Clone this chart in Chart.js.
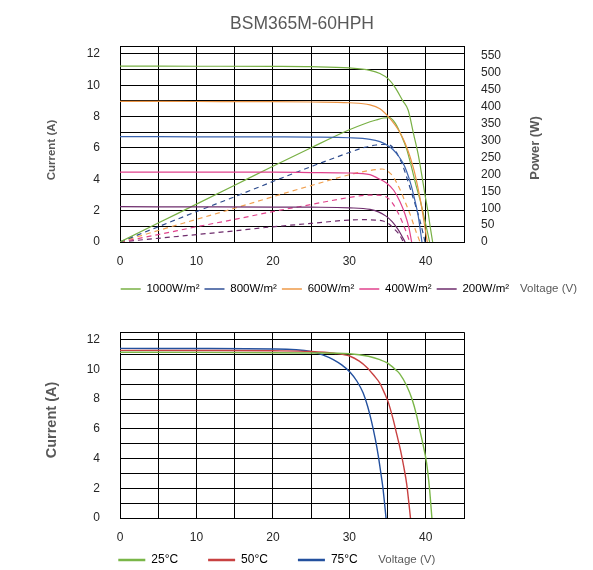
<!DOCTYPE html>
<html lang="en">
<head>
<meta charset="UTF-8">
<title>BSM365M-60HPH</title>
<script src="https://cdn.jsdelivr.net/npm/chart.js"></script>
<style>
  body { margin: 0; background: #fff; }
  .box { position: absolute; left: 0; width: 593px; }
  #top { top: 0; height: 305px; }
  #bottom { top: 305px; height: 265px; }
</style>
</head>
<body>
<div class="box" id="top"><canvas id="ivChart"></canvas></div>
<div class="box" id="bottom"><canvas id="tempChart"></canvas></div>
<script>
  // legend / series names
  const irradianceLabels = ['1000W/m²', '800W/m²', '600W/m²', '400W/m²', '200W/m²'];
  const tempLabels = ['25°C', '50°C', '75°C'];

  // I-V curves, [voltage, current]
  const iv1000 = [[0, 11.22], [10, 11.21], [20, 11.2], [25, 11.18], [30, 11.1], [32.7, 10.95], [34, 10.75], [35.1, 10.4], [36, 9.85], [37, 9.0], [37.7, 8.4], [38.4, 6.9], [39, 5.6], [39.5, 4.2], [39.9, 3.0], [40.3, 1.9], [40.6, 0.9], [40.9, 0]];
  const iv800 = [[0, 8.97], [10, 8.96], [20, 8.95], [25, 8.93], [30, 8.88], [32.7, 8.75], [34, 8.5], [35.1, 8.0], [36, 7.45], [36.6, 7.0], [37.3, 6.3], [37.9, 5.5], [38.5, 4.5], [39, 3.4], [39.4, 2.4], [39.7, 1.5], [40.2, 0]];
  const iv600 = [[0, 6.72], [10, 6.71], [20, 6.7], [25, 6.69], [30, 6.65], [32.7, 6.55], [34, 6.4], [34.9, 6.19], [35.7, 5.9], [36.4, 5.5], [37, 5.05], [37.5, 4.5], [38.1, 3.6], [38.6, 2.6], [39, 1.7], [39.5, 0]];
  const iv400 = [[0, 4.46], [10, 4.46], [20, 4.45], [25, 4.43], [30, 4.4], [32.7, 4.3], [33.8, 4.05], [34.9, 3.75], [35.8, 3.3], [36.6, 2.6], [37.3, 1.75], [37.8, 0.9], [38.15, 0]];
  const iv200 = [[0, 2.25], [10, 2.24], [20, 2.23], [25, 2.22], [30, 2.18], [32.7, 2.08], [33.8, 1.92], [34.8, 1.65], [35.6, 1.3], [36.3, 0.85], [36.8, 0.45], [37.3, 0]];

  // P-V curves, [voltage, power]
  const pv1000 = [[0, 0], [5, 56], [10, 112], [15, 168], [20, 224], [25, 279], [30, 332], [32, 350], [33.5, 361], [34.5, 367], [35.2, 368], [36, 352], [36.9, 310], [37.5, 275], [38.15, 220], [38.7, 170], [39.25, 125], [39.9, 62], [40.5, 0]];
  const pv800 = [[0, 0], [5, 45], [10, 90], [15, 134], [20, 179], [25, 223], [30, 265], [32, 280], [33.5, 287], [34.9, 289], [35.7, 280], [36.4, 255], [37, 225], [37.6, 185], [38.15, 145], [38.7, 105], [39.25, 62], [39.6, 30], [39.9, 0]];
  const pv600 = [[0, 0], [5, 34], [10, 67], [15, 100], [20, 134], [25, 167], [30, 199], [32, 209], [33.4, 214], [34.3, 216], [35.5, 200], [36.2, 175], [36.85, 144], [37.4, 113], [37.9, 85], [38.4, 52], [38.8, 26], [39.25, 0]];
  const pv400 = [[0, 0], [5, 22], [10, 45], [15, 67], [20, 90], [25, 111], [30, 132], [32, 138], [33.5, 139], [34.4, 137], [35.1, 129], [35.8, 110], [36.4, 85], [37, 55], [37.5, 26], [37.9, 0]];
  const pv200 = [[0, 0], [5, 11], [10, 22], [15, 33], [20, 45], [25, 55], [30, 65], [32, 66], [33.4, 65], [34.4, 62], [35.1, 55], [35.8, 40], [36.4, 26], [36.8, 12], [37.05, 0]];

  // temperature I-V curves, [voltage, current]
  const iv25c = [[0, 11.15], [10, 11.14], [20, 11.12], [25, 11.1], [30, 11.05], [32.5, 10.88], [34, 10.65], [34.9, 10.45], [36, 10.0], [36.6, 9.7], [37.5, 8.9], [38.2, 8.0], [38.8, 6.9], [39.25, 5.85], [39.7, 4.8], [40.1, 3.72], [40.5, 1.9], [40.8, 0]];
  const iv50c = [[0, 11.28], [10, 11.27], [20, 11.25], [25, 11.2], [28, 11.08], [30.1, 10.88], [31.3, 10.55], [32.3, 10.13], [33.2, 9.6], [34, 9.06], [34.6, 8.4], [35.1, 7.78], [35.7, 6.7], [36.2, 5.64], [36.7, 4.55], [37.1, 3.5], [37.5, 2.3], [38, 0]];
  const iv75c = [[0, 11.41], [10, 11.4], [20, 11.37], [25, 11.2], [26.5, 10.98], [27.9, 10.66], [29, 10.3], [30.1, 9.81], [31, 9.2], [31.8, 8.42], [32.4, 7.5], [32.9, 6.5], [33.4, 5.3], [33.8, 4.15], [34.1, 3.1], [34.4, 2.0], [34.8, 0]];

  // axes: grid steps and labelled ticks
  const voltageMax = 45;
  const voltageLabels = [0, 10, 20, 30, 40];
  const currentMax = 12.5;
  const currentGrid = [0, 1, 2, 3, 4, 5, 6, 7, 8, 9, 10, 11, 12, 12.5];
  const currentLabels = [0, 2, 4, 6, 8, 10, 12];
  const powerMax = 580;
  const powerLabels = [0, 50, 100, 150, 200, 250, 300, 350, 400, 450, 500, 550];

  const green = '#78b044';
  const legendColors = [green, '#2f4f96', '#ee9a48', '#e0428c', '#6e2c6c'];
  const tempColors = ['#7ab648', '#c84141', '#23509e'];

  Chart.defaults.font.family = '"Liberation Sans", Arial, sans-serif';
  Chart.defaults.color = '#262626';

  const toXY = arr => arr.map(p => ({ x: p[0], y: p[1] }));
  const setTicks = list => s => { s.ticks = list.map(v => ({ value: v })); };

  // moves the legend and draws the extra texts
  const extraText = {
    id: 'extraText',
    afterLayout(chart, args, opts) {
      const lg = chart.legend;
      const lo = chart.options.plugins.legend.labels;
      if (!lg || !opts.legendStart) return;
      lg.left = opts.legendStart[0] - lo.padding;
      lg.right = lg.left + 1000;
      lg.top = opts.legendStart[1] - lo.font.size / 2 - lo.padding;
      lg.bottom = lg.top + 80;
    },
    afterDraw(chart, args, opts) {
      const ctx = chart.ctx;
      const lg = chart.legend;
      ctx.save();
      ctx.textBaseline = 'middle';
      if (opts.axisName && lg && lg.legendHitBoxes && lg.legendHitBoxes.length) {
        const hb = lg.legendHitBoxes[lg.legendHitBoxes.length - 1];
        ctx.font = opts.axisName.font;
        ctx.fillStyle = '#595959';
        ctx.textAlign = 'left';
        ctx.fillText(opts.axisName.text, hb.left + hb.width + opts.axisName.gap, opts.legendStart[1]);
      }
      (opts.vertical || []).forEach(t => {
        ctx.save();
        ctx.translate(t.x, t.y);
        ctx.rotate(-Math.PI / 2);
        ctx.font = t.font;
        ctx.fillStyle = '#595959';
        ctx.textAlign = 'center';
        ctx.fillText(t.text, 0, 0);
        ctx.restore();
      });
      ctx.restore();
    }
  };

  const gridOpts = { color: '#000', lineWidth: 1, drawTicks: false };

  function ivSet(data, color) {
    return { data: toXY(data), borderColor: color, yAxisID: 'y', borderWidth: 1.2 };
  }
  function pvSet(data, color, dashed) {
    return { data: toXY(data), borderColor: color, yAxisID: 'y1', borderWidth: 1.2, borderDash: dashed ? [5, 4] : [] };
  }

  const xScale = height => ({
    type: 'linear', min: 0, max: voltageMax,
    ticks: { stepSize: 5, padding: 12, autoSkip: false, maxRotation: 0, font: { size: 12 },
      callback: v => voltageLabels.includes(v) ? v : '' },
    grid: gridOpts, border: { color: '#000' },
    afterFit: s => { s.height = height; }
  });
  const currentScale = {
    position: 'left', min: 0, max: currentMax,
    afterBuildTicks: setTicks(currentGrid),
    ticks: { padding: 20, autoSkip: false, font: { size: 12 },
      callback: v => currentLabels.includes(v) ? v : '' },
    grid: gridOpts, border: { color: '#000' },
    afterFit: s => { s.width = 109; }
  };

  const ivData = {
    datasets: [
      ivSet(iv1000, green),
      ivSet(iv800, '#eb9444'),
      ivSet(iv600, '#3a63ae'),
      ivSet(iv400, '#e0428c'),
      ivSet(iv200, '#6e2c6c'),
      pvSet(pv1000, green, false),
      pvSet(pv800, '#2c4a8c', true),
      pvSet(pv600, '#f0a050', true),
      pvSet(pv400, '#e0428c', true),
      pvSet(pv200, '#6e2c6c', true)
    ]
  };

  const ivConfig = {
    type: 'line',
    data: ivData,
    options: {
      responsive: true,
      maintainAspectRatio: false,
      animation: false,
      layout: { padding: { left: 11, right: 0, top: 0, bottom: 0 } },
      elements: { point: { radius: 0 }, line: { cubicInterpolationMode: 'monotone', fill: false } },
      plugins: {
        title: {
          display: true, text: 'BSM365M-60HPH', color: '#595959',
          font: { size: 17.5, weight: 'normal' }, padding: { top: 13.5, bottom: 11.5 }
        },
        legend: {
          position: 'bottom', align: 'start', maxHeight: 1,
          labels: {
            usePointStyle: true, pointStyleWidth: 20, padding: 5, color: '#595959', font: { size: 11.5 },
            generateLabels: () => irradianceLabels.map((t, i) => ({
              text: t, strokeStyle: legendColors[i], fillStyle: legendColors[i], lineWidth: 1.5,
              pointStyle: 'line', hidden: false, datasetIndex: i
            }))
          }
        },
        tooltip: { enabled: false },
        extraText: {
          legendStart: [120.7, 289],
          axisName: { text: 'Voltage (V)', font: '11.5px "Liberation Sans", Arial, sans-serif', gap: 11 },
          vertical: [
            { text: 'Current (A)', x: 51.5, y: 150, font: 'bold 11.5px "Liberation Sans", Arial, sans-serif' },
            { text: 'Power (W)', x: 535, y: 148, font: 'bold 13px "Liberation Sans", Arial, sans-serif' }
          ]
        }
      },
      scales: {
        x: xScale(62),
        y: currentScale,
        y1: {
          position: 'right', min: 0, max: powerMax,
          afterBuildTicks: setTicks(powerLabels),
          ticks: { padding: 17, autoSkip: false, font: { size: 12 } },
          grid: { display: false, drawTicks: false }, border: { color: '#000' },
          afterFit: s => { s.width = 129; }
        }
      }
    },
    plugins: [extraText]
  };

  const ivChart = new Chart(document.getElementById('ivChart'), ivConfig);

  // temperature chart
  const tempData = {
    datasets: [iv25c, iv50c, iv75c].map((d, i) => ({
      data: toXY(d), borderColor: tempColors[i], borderWidth: 1.4
    }))
  };

  const tempConfig = {
    type: 'line',
    data: tempData,
    options: {
      responsive: true,
      maintainAspectRatio: false,
      animation: false,
      layout: { padding: { left: 11, right: 129, top: 18, bottom: 0 } },
      elements: { point: { radius: 0 }, line: { cubicInterpolationMode: 'monotone', fill: false } },
      plugins: {
        legend: {
          position: 'bottom', align: 'start', maxHeight: 1,
          labels: {
            usePointStyle: true, pointStyleWidth: 27, padding: 30, color: '#595959', font: { size: 12 },
            generateLabels: () => tempLabels.map((t, i) => ({
              text: t, strokeStyle: tempColors[i], fillStyle: tempColors[i], lineWidth: 2.5,
              pointStyle: 'line', hidden: false, datasetIndex: i
            }))
          }
        },
        tooltip: { enabled: false },
        extraText: {
          legendStart: [118.3, 255],
          axisName: { text: 'Voltage (V)', font: '11.5px "Liberation Sans", Arial, sans-serif', gap: 20.6 },
          vertical: [
            { text: 'Current (A)', x: 51.5, y: 115, font: 'bold 14.5px "Liberation Sans", Arial, sans-serif' }
          ]
        }
      },
      scales: {
        x: xScale(51),
        y: currentScale
      }
    },
    plugins: [extraText]
  };

  const tempChart = new Chart(document.getElementById('tempChart'), tempConfig);
</script>
</body>
</html>
